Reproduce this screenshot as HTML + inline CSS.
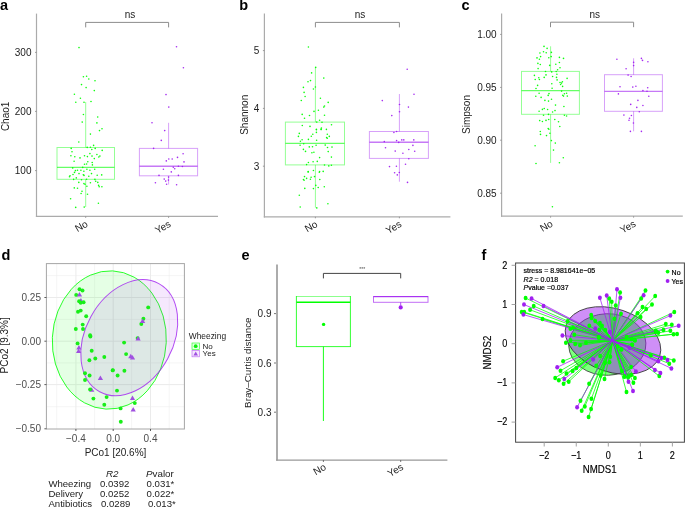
<!DOCTYPE html>
<html><head><meta charset="utf-8"><style>
html,body{margin:0;padding:0;background:#fff;width:685px;height:507px;overflow:hidden}
svg{display:block;will-change:transform}
text{font-family:"Liberation Sans", sans-serif}
</style></head><body>
<svg width="685" height="507" viewBox="0 0 685 507">
<rect width="685" height="507" fill="#fff"/>
<text x="0.0" y="9.8" font-size="14.5" text-anchor="start" fill="#000" font-weight="bold">a</text>
<line x1="36.50" y1="13.60" x2="36.50" y2="217.00" stroke="#ababab" stroke-width="1.2"/>
<line x1="35.90" y1="216.40" x2="218.00" y2="216.40" stroke="#ababab" stroke-width="1.2"/>
<line x1="35.00" y1="52.40" x2="36.50" y2="52.40" stroke="#888" stroke-width="0.8"/>
<text x="31.5" y="56.0" font-size="10" text-anchor="end" fill="#222">300</text>
<line x1="35.00" y1="111.40" x2="36.50" y2="111.40" stroke="#888" stroke-width="0.8"/>
<text x="31.5" y="115.0" font-size="10" text-anchor="end" fill="#222">200</text>
<line x1="35.00" y1="170.60" x2="36.50" y2="170.60" stroke="#888" stroke-width="0.8"/>
<text x="31.5" y="174.2" font-size="10" text-anchor="end" fill="#222">100</text>
<text x="9.3" y="116.4" font-size="10" text-anchor="middle" fill="#222" transform="rotate(-90 9.3 116.4)">Chao1</text>
<line x1="85.70" y1="102.00" x2="85.70" y2="147.50" stroke="#00ff00" stroke-width="1" stroke-opacity="0.42"/>
<line x1="85.70" y1="179.30" x2="85.70" y2="207.00" stroke="#00ff00" stroke-width="1" stroke-opacity="0.42"/>
<rect x="57.00" y="147.50" width="57.50" height="31.80" fill="none" stroke="#00ff00" stroke-width="1" stroke-opacity="0.42"/>
<line x1="57.00" y1="167.40" x2="114.50" y2="167.40" stroke="#00ff00" stroke-width="1.4" stroke-opacity="0.6"/>
<circle cx="79.0" cy="47.6" r="0.8" fill="#00ff00" fill-opacity="0.95"/>
<circle cx="83.4" cy="76.7" r="0.8" fill="#00ff00" fill-opacity="0.95"/>
<circle cx="86.6" cy="76.3" r="0.8" fill="#00ff00" fill-opacity="0.95"/>
<circle cx="88.8" cy="79.0" r="0.8" fill="#00ff00" fill-opacity="0.95"/>
<circle cx="95.0" cy="80.8" r="0.8" fill="#00ff00" fill-opacity="0.95"/>
<circle cx="81.5" cy="84.6" r="0.8" fill="#00ff00" fill-opacity="0.95"/>
<circle cx="86.1" cy="87.6" r="0.8" fill="#00ff00" fill-opacity="0.95"/>
<circle cx="94.3" cy="90.6" r="0.8" fill="#00ff00" fill-opacity="0.95"/>
<circle cx="74.4" cy="94.2" r="0.8" fill="#00ff00" fill-opacity="0.95"/>
<circle cx="80.4" cy="98.2" r="0.8" fill="#00ff00" fill-opacity="0.95"/>
<circle cx="75.8" cy="102.3" r="0.8" fill="#00ff00" fill-opacity="0.95"/>
<circle cx="84.0" cy="102.3" r="0.8" fill="#00ff00" fill-opacity="0.95"/>
<circle cx="91.0" cy="101.5" r="0.8" fill="#00ff00" fill-opacity="0.95"/>
<circle cx="83.4" cy="114.5" r="0.8" fill="#00ff00" fill-opacity="0.95"/>
<circle cx="97.7" cy="117.0" r="0.8" fill="#00ff00" fill-opacity="0.95"/>
<circle cx="82.2" cy="122.1" r="0.8" fill="#00ff00" fill-opacity="0.95"/>
<circle cx="96.9" cy="122.9" r="0.8" fill="#00ff00" fill-opacity="0.95"/>
<circle cx="102.0" cy="128.8" r="0.8" fill="#00ff00" fill-opacity="0.95"/>
<circle cx="99.5" cy="130.6" r="0.8" fill="#00ff00" fill-opacity="0.95"/>
<circle cx="90.4" cy="134.1" r="0.8" fill="#00ff00" fill-opacity="0.95"/>
<circle cx="78.8" cy="142.0" r="0.8" fill="#00ff00" fill-opacity="0.95"/>
<circle cx="93.6" cy="145.4" r="0.8" fill="#00ff00" fill-opacity="0.95"/>
<circle cx="87.2" cy="147.4" r="0.8" fill="#00ff00" fill-opacity="0.95"/>
<circle cx="90.4" cy="147.2" r="0.8" fill="#00ff00" fill-opacity="0.95"/>
<circle cx="71.2" cy="148.4" r="0.8" fill="#00ff00" fill-opacity="0.95"/>
<circle cx="95.2" cy="148.4" r="0.8" fill="#00ff00" fill-opacity="0.95"/>
<circle cx="102.2" cy="150.4" r="0.8" fill="#00ff00" fill-opacity="0.95"/>
<circle cx="91.8" cy="149.5" r="0.8" fill="#00ff00" fill-opacity="0.95"/>
<circle cx="72.0" cy="151.8" r="0.8" fill="#00ff00" fill-opacity="0.95"/>
<circle cx="89.9" cy="153.6" r="0.8" fill="#00ff00" fill-opacity="0.95"/>
<circle cx="96.9" cy="154.5" r="0.8" fill="#00ff00" fill-opacity="0.95"/>
<circle cx="70.9" cy="155.8" r="0.8" fill="#00ff00" fill-opacity="0.95"/>
<circle cx="74.8" cy="156.8" r="0.8" fill="#00ff00" fill-opacity="0.95"/>
<circle cx="80.0" cy="157.9" r="0.8" fill="#00ff00" fill-opacity="0.95"/>
<circle cx="84.5" cy="155.8" r="0.8" fill="#00ff00" fill-opacity="0.95"/>
<circle cx="87.4" cy="156.6" r="0.8" fill="#00ff00" fill-opacity="0.95"/>
<circle cx="92.0" cy="156.1" r="0.8" fill="#00ff00" fill-opacity="0.95"/>
<circle cx="98.8" cy="157.0" r="0.8" fill="#00ff00" fill-opacity="0.95"/>
<circle cx="99.9" cy="156.1" r="0.8" fill="#00ff00" fill-opacity="0.95"/>
<circle cx="94.3" cy="158.6" r="0.8" fill="#00ff00" fill-opacity="0.95"/>
<circle cx="74.1" cy="161.3" r="0.8" fill="#00ff00" fill-opacity="0.95"/>
<circle cx="87.8" cy="161.7" r="0.8" fill="#00ff00" fill-opacity="0.95"/>
<circle cx="84.5" cy="164.2" r="0.8" fill="#00ff00" fill-opacity="0.95"/>
<circle cx="86.6" cy="164.0" r="0.8" fill="#00ff00" fill-opacity="0.95"/>
<circle cx="92.2" cy="162.5" r="0.8" fill="#00ff00" fill-opacity="0.95"/>
<circle cx="92.4" cy="164.9" r="0.8" fill="#00ff00" fill-opacity="0.95"/>
<circle cx="72.7" cy="167.9" r="0.8" fill="#00ff00" fill-opacity="0.95"/>
<circle cx="82.7" cy="167.4" r="0.8" fill="#00ff00" fill-opacity="0.95"/>
<circle cx="75.4" cy="170.6" r="0.8" fill="#00ff00" fill-opacity="0.95"/>
<circle cx="77.5" cy="170.3" r="0.8" fill="#00ff00" fill-opacity="0.95"/>
<circle cx="80.9" cy="170.2" r="0.8" fill="#00ff00" fill-opacity="0.95"/>
<circle cx="83.9" cy="171.3" r="0.8" fill="#00ff00" fill-opacity="0.95"/>
<circle cx="86.9" cy="169.3" r="0.8" fill="#00ff00" fill-opacity="0.95"/>
<circle cx="89.9" cy="170.3" r="0.8" fill="#00ff00" fill-opacity="0.95"/>
<circle cx="94.7" cy="169.3" r="0.8" fill="#00ff00" fill-opacity="0.95"/>
<circle cx="74.5" cy="172.4" r="0.8" fill="#00ff00" fill-opacity="0.95"/>
<circle cx="73.0" cy="174.5" r="0.8" fill="#00ff00" fill-opacity="0.95"/>
<circle cx="79.0" cy="173.6" r="0.8" fill="#00ff00" fill-opacity="0.95"/>
<circle cx="83.3" cy="174.7" r="0.8" fill="#00ff00" fill-opacity="0.95"/>
<circle cx="84.0" cy="175.4" r="0.8" fill="#00ff00" fill-opacity="0.95"/>
<circle cx="91.5" cy="173.6" r="0.8" fill="#00ff00" fill-opacity="0.95"/>
<circle cx="88.8" cy="176.3" r="0.8" fill="#00ff00" fill-opacity="0.95"/>
<circle cx="97.2" cy="175.2" r="0.8" fill="#00ff00" fill-opacity="0.95"/>
<circle cx="101.7" cy="174.9" r="0.8" fill="#00ff00" fill-opacity="0.95"/>
<circle cx="70.0" cy="175.8" r="0.8" fill="#00ff00" fill-opacity="0.95"/>
<circle cx="69.5" cy="176.8" r="0.8" fill="#00ff00" fill-opacity="0.95"/>
<circle cx="76.3" cy="177.9" r="0.8" fill="#00ff00" fill-opacity="0.95"/>
<circle cx="73.6" cy="179.4" r="0.8" fill="#00ff00" fill-opacity="0.95"/>
<circle cx="81.5" cy="179.7" r="0.8" fill="#00ff00" fill-opacity="0.95"/>
<circle cx="86.6" cy="179.2" r="0.8" fill="#00ff00" fill-opacity="0.95"/>
<circle cx="94.9" cy="179.4" r="0.8" fill="#00ff00" fill-opacity="0.95"/>
<circle cx="78.8" cy="182.4" r="0.8" fill="#00ff00" fill-opacity="0.95"/>
<circle cx="83.9" cy="183.6" r="0.8" fill="#00ff00" fill-opacity="0.95"/>
<circle cx="85.0" cy="184.2" r="0.8" fill="#00ff00" fill-opacity="0.95"/>
<circle cx="90.4" cy="182.7" r="0.8" fill="#00ff00" fill-opacity="0.95"/>
<circle cx="95.7" cy="181.2" r="0.8" fill="#00ff00" fill-opacity="0.95"/>
<circle cx="97.8" cy="182.4" r="0.8" fill="#00ff00" fill-opacity="0.95"/>
<circle cx="98.6" cy="185.4" r="0.8" fill="#00ff00" fill-opacity="0.95"/>
<circle cx="99.2" cy="186.7" r="0.8" fill="#00ff00" fill-opacity="0.95"/>
<circle cx="101.9" cy="186.7" r="0.8" fill="#00ff00" fill-opacity="0.95"/>
<circle cx="86.9" cy="186.3" r="0.8" fill="#00ff00" fill-opacity="0.95"/>
<circle cx="74.3" cy="187.9" r="0.8" fill="#00ff00" fill-opacity="0.95"/>
<circle cx="77.5" cy="188.3" r="0.8" fill="#00ff00" fill-opacity="0.95"/>
<circle cx="82.0" cy="191.2" r="0.8" fill="#00ff00" fill-opacity="0.95"/>
<circle cx="81.1" cy="193.5" r="0.8" fill="#00ff00" fill-opacity="0.95"/>
<circle cx="87.5" cy="194.2" r="0.8" fill="#00ff00" fill-opacity="0.95"/>
<circle cx="70.6" cy="198.8" r="0.8" fill="#00ff00" fill-opacity="0.95"/>
<circle cx="98.4" cy="203.3" r="0.8" fill="#00ff00" fill-opacity="0.95"/>
<circle cx="75.7" cy="207.4" r="0.8" fill="#00ff00" fill-opacity="0.95"/>
<circle cx="84.2" cy="207.1" r="0.8" fill="#00ff00" fill-opacity="0.95"/>
<line x1="168.60" y1="122.80" x2="168.60" y2="148.40" stroke="#a020f0" stroke-width="1" stroke-opacity="0.42"/>
<line x1="168.60" y1="175.80" x2="168.60" y2="184.50" stroke="#a020f0" stroke-width="1" stroke-opacity="0.42"/>
<rect x="139.40" y="148.40" width="58.20" height="27.40" fill="none" stroke="#a020f0" stroke-width="1" stroke-opacity="0.42"/>
<line x1="139.40" y1="166.20" x2="197.60" y2="166.20" stroke="#a020f0" stroke-width="1.4" stroke-opacity="0.6"/>
<circle cx="176.5" cy="46.8" r="0.8" fill="#a020f0" fill-opacity="0.95"/>
<circle cx="183.4" cy="67.7" r="0.8" fill="#a020f0" fill-opacity="0.95"/>
<circle cx="166.0" cy="94.6" r="0.8" fill="#a020f0" fill-opacity="0.95"/>
<circle cx="168.8" cy="107.1" r="0.8" fill="#a020f0" fill-opacity="0.95"/>
<circle cx="152.0" cy="122.8" r="0.8" fill="#a020f0" fill-opacity="0.95"/>
<circle cx="164.7" cy="130.6" r="0.8" fill="#a020f0" fill-opacity="0.95"/>
<circle cx="161.3" cy="140.4" r="0.8" fill="#a020f0" fill-opacity="0.95"/>
<circle cx="153.6" cy="148.4" r="0.8" fill="#a020f0" fill-opacity="0.95"/>
<circle cx="183.1" cy="153.8" r="0.8" fill="#a020f0" fill-opacity="0.95"/>
<circle cx="177.5" cy="157.4" r="0.8" fill="#a020f0" fill-opacity="0.95"/>
<circle cx="168.8" cy="159.0" r="0.8" fill="#a020f0" fill-opacity="0.95"/>
<circle cx="172.2" cy="159.0" r="0.8" fill="#a020f0" fill-opacity="0.95"/>
<circle cx="166.3" cy="160.9" r="0.8" fill="#a020f0" fill-opacity="0.95"/>
<circle cx="184.0" cy="161.9" r="0.8" fill="#a020f0" fill-opacity="0.95"/>
<circle cx="173.3" cy="167.2" r="0.8" fill="#a020f0" fill-opacity="0.95"/>
<circle cx="178.4" cy="166.3" r="0.8" fill="#a020f0" fill-opacity="0.95"/>
<circle cx="182.4" cy="166.5" r="0.8" fill="#a020f0" fill-opacity="0.95"/>
<circle cx="174.7" cy="168.8" r="0.8" fill="#a020f0" fill-opacity="0.95"/>
<circle cx="163.4" cy="169.3" r="0.8" fill="#a020f0" fill-opacity="0.95"/>
<circle cx="171.3" cy="171.9" r="0.8" fill="#a020f0" fill-opacity="0.95"/>
<circle cx="159.0" cy="175.4" r="0.8" fill="#a020f0" fill-opacity="0.95"/>
<circle cx="178.4" cy="175.4" r="0.8" fill="#a020f0" fill-opacity="0.95"/>
<circle cx="168.6" cy="177.1" r="0.8" fill="#a020f0" fill-opacity="0.95"/>
<circle cx="164.2" cy="179.1" r="0.8" fill="#a020f0" fill-opacity="0.95"/>
<circle cx="165.7" cy="181.1" r="0.8" fill="#a020f0" fill-opacity="0.95"/>
<circle cx="168.4" cy="180.1" r="0.8" fill="#a020f0" fill-opacity="0.95"/>
<circle cx="155.4" cy="182.7" r="0.8" fill="#a020f0" fill-opacity="0.95"/>
<circle cx="166.6" cy="184.3" r="0.8" fill="#a020f0" fill-opacity="0.95"/>
<circle cx="176.6" cy="184.7" r="0.8" fill="#a020f0" fill-opacity="0.95"/>
<path d="M85.7 27.4 V22.4 H168.6 V27.4" fill="none" stroke="#8c8c8c" stroke-width="1"/>
<text x="130.0" y="18.0" font-size="10" text-anchor="middle" fill="#222">ns</text>
<line x1="85.70" y1="216.40" x2="85.70" y2="217.90" stroke="#888" stroke-width="0.8"/>
<line x1="168.60" y1="216.40" x2="168.60" y2="217.90" stroke="#888" stroke-width="0.8"/>
<text x="88.7" y="225.9" font-size="10" text-anchor="end" fill="#222" transform="rotate(-30 88.7 225.9)">No</text>
<text x="171.6" y="225.9" font-size="10" text-anchor="end" fill="#222" transform="rotate(-30 171.6 225.9)">Yes</text>
<text x="239.3" y="9.8" font-size="14.5" text-anchor="start" fill="#000" font-weight="bold">b</text>
<line x1="264.40" y1="13.60" x2="264.40" y2="217.40" stroke="#ababab" stroke-width="1.2"/>
<line x1="263.80" y1="216.80" x2="450.40" y2="216.80" stroke="#ababab" stroke-width="1.2"/>
<line x1="262.90" y1="50.60" x2="264.40" y2="50.60" stroke="#888" stroke-width="0.8"/>
<text x="259.4" y="54.2" font-size="10" text-anchor="end" fill="#222">5</text>
<line x1="262.90" y1="108.40" x2="264.40" y2="108.40" stroke="#888" stroke-width="0.8"/>
<text x="259.4" y="112.0" font-size="10" text-anchor="end" fill="#222">4</text>
<line x1="262.90" y1="166.20" x2="264.40" y2="166.20" stroke="#888" stroke-width="0.8"/>
<text x="259.4" y="169.8" font-size="10" text-anchor="end" fill="#222">3</text>
<text x="248.3" y="114.8" font-size="10" text-anchor="middle" fill="#222" transform="rotate(-90 248.3 114.8)">Shannon</text>
<line x1="315.40" y1="67.20" x2="315.40" y2="122.10" stroke="#00ff00" stroke-width="1" stroke-opacity="0.42"/>
<line x1="315.40" y1="164.90" x2="315.40" y2="207.70" stroke="#00ff00" stroke-width="1" stroke-opacity="0.42"/>
<rect x="285.40" y="122.10" width="59.10" height="42.80" fill="none" stroke="#00ff00" stroke-width="1" stroke-opacity="0.42"/>
<line x1="285.40" y1="143.40" x2="344.50" y2="143.40" stroke="#00ff00" stroke-width="1.4" stroke-opacity="0.6"/>
<circle cx="308.4" cy="47.0" r="0.8" fill="#00ff00" fill-opacity="0.95"/>
<circle cx="315.7" cy="67.4" r="0.8" fill="#00ff00" fill-opacity="0.95"/>
<circle cx="311.6" cy="72.9" r="0.8" fill="#00ff00" fill-opacity="0.95"/>
<circle cx="323.8" cy="78.1" r="0.8" fill="#00ff00" fill-opacity="0.95"/>
<circle cx="310.5" cy="80.6" r="0.8" fill="#00ff00" fill-opacity="0.95"/>
<circle cx="308.0" cy="81.7" r="0.8" fill="#00ff00" fill-opacity="0.95"/>
<circle cx="303.4" cy="87.4" r="0.8" fill="#00ff00" fill-opacity="0.95"/>
<circle cx="315.4" cy="87.0" r="0.8" fill="#00ff00" fill-opacity="0.95"/>
<circle cx="313.4" cy="89.0" r="0.8" fill="#00ff00" fill-opacity="0.95"/>
<circle cx="304.1" cy="92.4" r="0.8" fill="#00ff00" fill-opacity="0.95"/>
<circle cx="305.1" cy="96.5" r="0.8" fill="#00ff00" fill-opacity="0.95"/>
<circle cx="320.4" cy="98.2" r="0.8" fill="#00ff00" fill-opacity="0.95"/>
<circle cx="301.3" cy="100.5" r="0.8" fill="#00ff00" fill-opacity="0.95"/>
<circle cx="328.2" cy="102.4" r="0.8" fill="#00ff00" fill-opacity="0.95"/>
<circle cx="324.5" cy="106.0" r="0.8" fill="#00ff00" fill-opacity="0.95"/>
<circle cx="323.8" cy="107.1" r="0.8" fill="#00ff00" fill-opacity="0.95"/>
<circle cx="318.4" cy="110.3" r="0.8" fill="#00ff00" fill-opacity="0.95"/>
<circle cx="314.0" cy="111.4" r="0.8" fill="#00ff00" fill-opacity="0.95"/>
<circle cx="302.2" cy="114.4" r="0.8" fill="#00ff00" fill-opacity="0.95"/>
<circle cx="309.5" cy="115.5" r="0.8" fill="#00ff00" fill-opacity="0.95"/>
<circle cx="324.5" cy="115.3" r="0.8" fill="#00ff00" fill-opacity="0.95"/>
<circle cx="304.5" cy="118.2" r="0.8" fill="#00ff00" fill-opacity="0.95"/>
<circle cx="319.6" cy="120.3" r="0.8" fill="#00ff00" fill-opacity="0.95"/>
<circle cx="316.8" cy="122.1" r="0.8" fill="#00ff00" fill-opacity="0.95"/>
<circle cx="322.0" cy="122.3" r="0.8" fill="#00ff00" fill-opacity="0.95"/>
<circle cx="302.3" cy="125.5" r="0.8" fill="#00ff00" fill-opacity="0.95"/>
<circle cx="310.0" cy="126.4" r="0.8" fill="#00ff00" fill-opacity="0.95"/>
<circle cx="331.5" cy="124.8" r="0.8" fill="#00ff00" fill-opacity="0.95"/>
<circle cx="316.4" cy="129.4" r="0.8" fill="#00ff00" fill-opacity="0.95"/>
<circle cx="321.4" cy="128.0" r="0.8" fill="#00ff00" fill-opacity="0.95"/>
<circle cx="321.1" cy="129.1" r="0.8" fill="#00ff00" fill-opacity="0.95"/>
<circle cx="326.4" cy="129.4" r="0.8" fill="#00ff00" fill-opacity="0.95"/>
<circle cx="321.1" cy="129.6" r="0.8" fill="#00ff00" fill-opacity="0.95"/>
<circle cx="316.4" cy="129.8" r="0.8" fill="#00ff00" fill-opacity="0.95"/>
<circle cx="316.4" cy="132.4" r="0.8" fill="#00ff00" fill-opacity="0.95"/>
<circle cx="299.3" cy="133.4" r="0.8" fill="#00ff00" fill-opacity="0.95"/>
<circle cx="312.8" cy="134.2" r="0.8" fill="#00ff00" fill-opacity="0.95"/>
<circle cx="327.3" cy="134.2" r="0.8" fill="#00ff00" fill-opacity="0.95"/>
<circle cx="298.4" cy="136.4" r="0.8" fill="#00ff00" fill-opacity="0.95"/>
<circle cx="311.3" cy="136.3" r="0.8" fill="#00ff00" fill-opacity="0.95"/>
<circle cx="329.3" cy="136.4" r="0.8" fill="#00ff00" fill-opacity="0.95"/>
<circle cx="326.6" cy="137.6" r="0.8" fill="#00ff00" fill-opacity="0.95"/>
<circle cx="327.3" cy="138.3" r="0.8" fill="#00ff00" fill-opacity="0.95"/>
<circle cx="302.1" cy="139.8" r="0.8" fill="#00ff00" fill-opacity="0.95"/>
<circle cx="300.4" cy="141.2" r="0.8" fill="#00ff00" fill-opacity="0.95"/>
<circle cx="308.4" cy="139.4" r="0.8" fill="#00ff00" fill-opacity="0.95"/>
<circle cx="316.6" cy="140.3" r="0.8" fill="#00ff00" fill-opacity="0.95"/>
<circle cx="303.7" cy="143.7" r="0.8" fill="#00ff00" fill-opacity="0.95"/>
<circle cx="300.1" cy="145.3" r="0.8" fill="#00ff00" fill-opacity="0.95"/>
<circle cx="309.3" cy="146.9" r="0.8" fill="#00ff00" fill-opacity="0.95"/>
<circle cx="312.5" cy="146.7" r="0.8" fill="#00ff00" fill-opacity="0.95"/>
<circle cx="316.1" cy="145.3" r="0.8" fill="#00ff00" fill-opacity="0.95"/>
<circle cx="325.2" cy="145.1" r="0.8" fill="#00ff00" fill-opacity="0.95"/>
<circle cx="327.5" cy="147.5" r="0.8" fill="#00ff00" fill-opacity="0.95"/>
<circle cx="332.0" cy="147.1" r="0.8" fill="#00ff00" fill-opacity="0.95"/>
<circle cx="303.4" cy="149.4" r="0.8" fill="#00ff00" fill-opacity="0.95"/>
<circle cx="305.5" cy="151.4" r="0.8" fill="#00ff00" fill-opacity="0.95"/>
<circle cx="311.9" cy="152.8" r="0.8" fill="#00ff00" fill-opacity="0.95"/>
<circle cx="313.9" cy="152.3" r="0.8" fill="#00ff00" fill-opacity="0.95"/>
<circle cx="328.2" cy="151.6" r="0.8" fill="#00ff00" fill-opacity="0.95"/>
<circle cx="319.6" cy="157.6" r="0.8" fill="#00ff00" fill-opacity="0.95"/>
<circle cx="331.4" cy="157.1" r="0.8" fill="#00ff00" fill-opacity="0.95"/>
<circle cx="308.4" cy="162.5" r="0.8" fill="#00ff00" fill-opacity="0.95"/>
<circle cx="313.1" cy="161.7" r="0.8" fill="#00ff00" fill-opacity="0.95"/>
<circle cx="317.3" cy="161.4" r="0.8" fill="#00ff00" fill-opacity="0.95"/>
<circle cx="306.6" cy="164.6" r="0.8" fill="#00ff00" fill-opacity="0.95"/>
<circle cx="324.5" cy="165.0" r="0.8" fill="#00ff00" fill-opacity="0.95"/>
<circle cx="328.8" cy="165.9" r="0.8" fill="#00ff00" fill-opacity="0.95"/>
<circle cx="331.4" cy="165.3" r="0.8" fill="#00ff00" fill-opacity="0.95"/>
<circle cx="313.4" cy="170.5" r="0.8" fill="#00ff00" fill-opacity="0.95"/>
<circle cx="308.2" cy="171.6" r="0.8" fill="#00ff00" fill-opacity="0.95"/>
<circle cx="319.6" cy="171.6" r="0.8" fill="#00ff00" fill-opacity="0.95"/>
<circle cx="323.2" cy="171.4" r="0.8" fill="#00ff00" fill-opacity="0.95"/>
<circle cx="308.1" cy="172.1" r="0.8" fill="#00ff00" fill-opacity="0.95"/>
<circle cx="319.3" cy="172.3" r="0.8" fill="#00ff00" fill-opacity="0.95"/>
<circle cx="304.5" cy="176.6" r="0.8" fill="#00ff00" fill-opacity="0.95"/>
<circle cx="306.6" cy="178.4" r="0.8" fill="#00ff00" fill-opacity="0.95"/>
<circle cx="311.1" cy="177.3" r="0.8" fill="#00ff00" fill-opacity="0.95"/>
<circle cx="310.4" cy="179.3" r="0.8" fill="#00ff00" fill-opacity="0.95"/>
<circle cx="314.5" cy="176.6" r="0.8" fill="#00ff00" fill-opacity="0.95"/>
<circle cx="303.4" cy="179.5" r="0.8" fill="#00ff00" fill-opacity="0.95"/>
<circle cx="304.1" cy="180.3" r="0.8" fill="#00ff00" fill-opacity="0.95"/>
<circle cx="319.8" cy="179.5" r="0.8" fill="#00ff00" fill-opacity="0.95"/>
<circle cx="315.8" cy="185.4" r="0.8" fill="#00ff00" fill-opacity="0.95"/>
<circle cx="318.2" cy="187.5" r="0.8" fill="#00ff00" fill-opacity="0.95"/>
<circle cx="324.3" cy="186.8" r="0.8" fill="#00ff00" fill-opacity="0.95"/>
<circle cx="304.8" cy="188.4" r="0.8" fill="#00ff00" fill-opacity="0.95"/>
<circle cx="313.4" cy="188.6" r="0.8" fill="#00ff00" fill-opacity="0.95"/>
<circle cx="299.3" cy="195.2" r="0.8" fill="#00ff00" fill-opacity="0.95"/>
<circle cx="327.9" cy="203.7" r="0.8" fill="#00ff00" fill-opacity="0.95"/>
<circle cx="300.2" cy="207.0" r="0.8" fill="#00ff00" fill-opacity="0.95"/>
<circle cx="316.8" cy="207.9" r="0.8" fill="#00ff00" fill-opacity="0.95"/>
<line x1="399.40" y1="94.00" x2="399.40" y2="131.50" stroke="#a020f0" stroke-width="1" stroke-opacity="0.42"/>
<line x1="399.40" y1="158.40" x2="399.40" y2="181.70" stroke="#a020f0" stroke-width="1" stroke-opacity="0.42"/>
<rect x="369.40" y="131.50" width="59.00" height="26.90" fill="none" stroke="#a020f0" stroke-width="1" stroke-opacity="0.42"/>
<line x1="369.40" y1="142.30" x2="428.40" y2="142.30" stroke="#a020f0" stroke-width="1.4" stroke-opacity="0.6"/>
<circle cx="407.2" cy="69.3" r="0.8" fill="#a020f0" fill-opacity="0.95"/>
<circle cx="414.0" cy="94.3" r="0.8" fill="#a020f0" fill-opacity="0.95"/>
<circle cx="382.3" cy="100.6" r="0.8" fill="#a020f0" fill-opacity="0.95"/>
<circle cx="399.5" cy="104.5" r="0.8" fill="#a020f0" fill-opacity="0.95"/>
<circle cx="408.4" cy="107.1" r="0.8" fill="#a020f0" fill-opacity="0.95"/>
<circle cx="399.5" cy="111.8" r="0.8" fill="#a020f0" fill-opacity="0.95"/>
<circle cx="391.8" cy="115.6" r="0.8" fill="#a020f0" fill-opacity="0.95"/>
<circle cx="393.9" cy="132.5" r="0.8" fill="#a020f0" fill-opacity="0.95"/>
<circle cx="396.6" cy="131.5" r="0.8" fill="#a020f0" fill-opacity="0.95"/>
<circle cx="396.6" cy="140.6" r="0.8" fill="#a020f0" fill-opacity="0.95"/>
<circle cx="401.8" cy="139.9" r="0.8" fill="#a020f0" fill-opacity="0.95"/>
<circle cx="403.8" cy="139.9" r="0.8" fill="#a020f0" fill-opacity="0.95"/>
<circle cx="413.8" cy="139.9" r="0.8" fill="#a020f0" fill-opacity="0.95"/>
<circle cx="384.3" cy="141.6" r="0.8" fill="#a020f0" fill-opacity="0.95"/>
<circle cx="398.7" cy="142.4" r="0.8" fill="#a020f0" fill-opacity="0.95"/>
<circle cx="412.9" cy="145.4" r="0.8" fill="#a020f0" fill-opacity="0.95"/>
<circle cx="385.5" cy="147.7" r="0.8" fill="#a020f0" fill-opacity="0.95"/>
<circle cx="408.8" cy="149.5" r="0.8" fill="#a020f0" fill-opacity="0.95"/>
<circle cx="395.2" cy="151.1" r="0.8" fill="#a020f0" fill-opacity="0.95"/>
<circle cx="414.7" cy="151.2" r="0.8" fill="#a020f0" fill-opacity="0.95"/>
<circle cx="402.9" cy="153.3" r="0.8" fill="#a020f0" fill-opacity="0.95"/>
<circle cx="408.8" cy="158.8" r="0.8" fill="#a020f0" fill-opacity="0.95"/>
<circle cx="405.5" cy="164.2" r="0.8" fill="#a020f0" fill-opacity="0.95"/>
<circle cx="389.5" cy="166.6" r="0.8" fill="#a020f0" fill-opacity="0.95"/>
<circle cx="396.4" cy="166.3" r="0.8" fill="#a020f0" fill-opacity="0.95"/>
<circle cx="399.3" cy="172.5" r="0.8" fill="#a020f0" fill-opacity="0.95"/>
<circle cx="394.6" cy="172.8" r="0.8" fill="#a020f0" fill-opacity="0.95"/>
<circle cx="397.3" cy="174.9" r="0.8" fill="#a020f0" fill-opacity="0.95"/>
<circle cx="407.5" cy="182.4" r="0.8" fill="#a020f0" fill-opacity="0.95"/>
<path d="M315.4 27.4 V22.4 H399.4 V27.4" fill="none" stroke="#8c8c8c" stroke-width="1"/>
<text x="360.0" y="18.0" font-size="10" text-anchor="middle" fill="#222">ns</text>
<line x1="315.40" y1="216.80" x2="315.40" y2="218.30" stroke="#888" stroke-width="0.8"/>
<line x1="399.40" y1="216.80" x2="399.40" y2="218.30" stroke="#888" stroke-width="0.8"/>
<text x="318.4" y="226.1" font-size="10" text-anchor="end" fill="#222" transform="rotate(-30 318.4 226.1)">No</text>
<text x="402.4" y="226.1" font-size="10" text-anchor="end" fill="#222" transform="rotate(-30 402.4 226.1)">Yes</text>
<text x="461.5" y="9.8" font-size="14.5" text-anchor="start" fill="#000" font-weight="bold">c</text>
<line x1="501.60" y1="13.60" x2="501.60" y2="216.80" stroke="#ababab" stroke-width="1.2"/>
<line x1="501.00" y1="216.20" x2="682.80" y2="216.20" stroke="#ababab" stroke-width="1.2"/>
<line x1="500.10" y1="34.40" x2="501.60" y2="34.40" stroke="#888" stroke-width="0.8"/>
<text x="496.6" y="38.0" font-size="10" text-anchor="end" fill="#222">1.00</text>
<line x1="500.10" y1="87.40" x2="501.60" y2="87.40" stroke="#888" stroke-width="0.8"/>
<text x="496.6" y="91.0" font-size="10" text-anchor="end" fill="#222">0.95</text>
<line x1="500.10" y1="140.20" x2="501.60" y2="140.20" stroke="#888" stroke-width="0.8"/>
<text x="496.6" y="143.8" font-size="10" text-anchor="end" fill="#222">0.90</text>
<line x1="500.10" y1="193.20" x2="501.60" y2="193.20" stroke="#888" stroke-width="0.8"/>
<text x="496.6" y="196.8" font-size="10" text-anchor="end" fill="#222">0.85</text>
<text x="470.3" y="114.5" font-size="10" text-anchor="middle" fill="#222" transform="rotate(-90 470.3 114.5)">Simpson</text>
<line x1="550.60" y1="46.30" x2="550.60" y2="71.40" stroke="#00ff00" stroke-width="1" stroke-opacity="0.42"/>
<line x1="550.60" y1="114.30" x2="550.60" y2="162.90" stroke="#00ff00" stroke-width="1" stroke-opacity="0.42"/>
<rect x="521.50" y="71.40" width="57.90" height="42.90" fill="none" stroke="#00ff00" stroke-width="1" stroke-opacity="0.42"/>
<line x1="521.50" y1="90.60" x2="579.40" y2="90.60" stroke="#00ff00" stroke-width="1.4" stroke-opacity="0.6"/>
<circle cx="544.0" cy="46.4" r="0.8" fill="#00ff00" fill-opacity="0.95"/>
<circle cx="547.1" cy="48.4" r="0.8" fill="#00ff00" fill-opacity="0.95"/>
<circle cx="539.9" cy="53.0" r="0.8" fill="#00ff00" fill-opacity="0.95"/>
<circle cx="543.5" cy="51.8" r="0.8" fill="#00ff00" fill-opacity="0.95"/>
<circle cx="546.2" cy="52.7" r="0.8" fill="#00ff00" fill-opacity="0.95"/>
<circle cx="551.4" cy="52.4" r="0.8" fill="#00ff00" fill-opacity="0.95"/>
<circle cx="540.6" cy="56.6" r="0.8" fill="#00ff00" fill-opacity="0.95"/>
<circle cx="537.0" cy="57.9" r="0.8" fill="#00ff00" fill-opacity="0.95"/>
<circle cx="539.4" cy="59.3" r="0.8" fill="#00ff00" fill-opacity="0.95"/>
<circle cx="548.8" cy="57.7" r="0.8" fill="#00ff00" fill-opacity="0.95"/>
<circle cx="551.2" cy="56.6" r="0.8" fill="#00ff00" fill-opacity="0.95"/>
<circle cx="559.4" cy="57.4" r="0.8" fill="#00ff00" fill-opacity="0.95"/>
<circle cx="563.5" cy="58.4" r="0.8" fill="#00ff00" fill-opacity="0.95"/>
<circle cx="537.9" cy="63.4" r="0.8" fill="#00ff00" fill-opacity="0.95"/>
<circle cx="540.3" cy="64.5" r="0.8" fill="#00ff00" fill-opacity="0.95"/>
<circle cx="549.7" cy="65.4" r="0.8" fill="#00ff00" fill-opacity="0.95"/>
<circle cx="555.8" cy="64.3" r="0.8" fill="#00ff00" fill-opacity="0.95"/>
<circle cx="559.4" cy="62.5" r="0.8" fill="#00ff00" fill-opacity="0.95"/>
<circle cx="538.1" cy="68.6" r="0.8" fill="#00ff00" fill-opacity="0.95"/>
<circle cx="560.0" cy="67.7" r="0.8" fill="#00ff00" fill-opacity="0.95"/>
<circle cx="545.5" cy="71.5" r="0.8" fill="#00ff00" fill-opacity="0.95"/>
<circle cx="551.7" cy="71.9" r="0.8" fill="#00ff00" fill-opacity="0.95"/>
<circle cx="556.2" cy="71.5" r="0.8" fill="#00ff00" fill-opacity="0.95"/>
<circle cx="557.6" cy="69.8" r="0.8" fill="#00ff00" fill-opacity="0.95"/>
<circle cx="534.4" cy="75.4" r="0.8" fill="#00ff00" fill-opacity="0.95"/>
<circle cx="546.0" cy="74.9" r="0.8" fill="#00ff00" fill-opacity="0.95"/>
<circle cx="556.9" cy="74.3" r="0.8" fill="#00ff00" fill-opacity="0.95"/>
<circle cx="552.6" cy="76.5" r="0.8" fill="#00ff00" fill-opacity="0.95"/>
<circle cx="544.2" cy="77.4" r="0.8" fill="#00ff00" fill-opacity="0.95"/>
<circle cx="556.5" cy="77.4" r="0.8" fill="#00ff00" fill-opacity="0.95"/>
<circle cx="538.8" cy="77.7" r="0.8" fill="#00ff00" fill-opacity="0.95"/>
<circle cx="539.4" cy="79.5" r="0.8" fill="#00ff00" fill-opacity="0.95"/>
<circle cx="535.2" cy="79.5" r="0.8" fill="#00ff00" fill-opacity="0.95"/>
<circle cx="557.1" cy="79.9" r="0.8" fill="#00ff00" fill-opacity="0.95"/>
<circle cx="567.1" cy="78.4" r="0.8" fill="#00ff00" fill-opacity="0.95"/>
<circle cx="560.0" cy="82.5" r="0.8" fill="#00ff00" fill-opacity="0.95"/>
<circle cx="562.4" cy="81.7" r="0.8" fill="#00ff00" fill-opacity="0.95"/>
<circle cx="561.6" cy="83.1" r="0.8" fill="#00ff00" fill-opacity="0.95"/>
<circle cx="560.6" cy="84.5" r="0.8" fill="#00ff00" fill-opacity="0.95"/>
<circle cx="551.8" cy="83.7" r="0.8" fill="#00ff00" fill-opacity="0.95"/>
<circle cx="537.6" cy="85.4" r="0.8" fill="#00ff00" fill-opacity="0.95"/>
<circle cx="562.6" cy="86.4" r="0.8" fill="#00ff00" fill-opacity="0.95"/>
<circle cx="536.0" cy="88.5" r="0.8" fill="#00ff00" fill-opacity="0.95"/>
<circle cx="552.1" cy="88.2" r="0.8" fill="#00ff00" fill-opacity="0.95"/>
<circle cx="561.6" cy="91.1" r="0.8" fill="#00ff00" fill-opacity="0.95"/>
<circle cx="539.1" cy="93.3" r="0.8" fill="#00ff00" fill-opacity="0.95"/>
<circle cx="549.0" cy="93.6" r="0.8" fill="#00ff00" fill-opacity="0.95"/>
<circle cx="548.2" cy="95.4" r="0.8" fill="#00ff00" fill-opacity="0.95"/>
<circle cx="535.8" cy="96.3" r="0.8" fill="#00ff00" fill-opacity="0.95"/>
<circle cx="541.1" cy="97.4" r="0.8" fill="#00ff00" fill-opacity="0.95"/>
<circle cx="564.4" cy="93.8" r="0.8" fill="#00ff00" fill-opacity="0.95"/>
<circle cx="566.6" cy="93.3" r="0.8" fill="#00ff00" fill-opacity="0.95"/>
<circle cx="562.7" cy="95.2" r="0.8" fill="#00ff00" fill-opacity="0.95"/>
<circle cx="563.5" cy="96.1" r="0.8" fill="#00ff00" fill-opacity="0.95"/>
<circle cx="567.3" cy="96.1" r="0.8" fill="#00ff00" fill-opacity="0.95"/>
<circle cx="551.5" cy="99.2" r="0.8" fill="#00ff00" fill-opacity="0.95"/>
<circle cx="544.9" cy="100.4" r="0.8" fill="#00ff00" fill-opacity="0.95"/>
<circle cx="548.5" cy="101.1" r="0.8" fill="#00ff00" fill-opacity="0.95"/>
<circle cx="555.5" cy="105.1" r="0.8" fill="#00ff00" fill-opacity="0.95"/>
<circle cx="563.9" cy="106.5" r="0.8" fill="#00ff00" fill-opacity="0.95"/>
<circle cx="544.2" cy="108.5" r="0.8" fill="#00ff00" fill-opacity="0.95"/>
<circle cx="542.4" cy="109.4" r="0.8" fill="#00ff00" fill-opacity="0.95"/>
<circle cx="547.6" cy="109.5" r="0.8" fill="#00ff00" fill-opacity="0.95"/>
<circle cx="539.1" cy="111.3" r="0.8" fill="#00ff00" fill-opacity="0.95"/>
<circle cx="552.6" cy="112.0" r="0.8" fill="#00ff00" fill-opacity="0.95"/>
<circle cx="555.0" cy="110.6" r="0.8" fill="#00ff00" fill-opacity="0.95"/>
<circle cx="548.5" cy="114.4" r="0.8" fill="#00ff00" fill-opacity="0.95"/>
<circle cx="543.5" cy="115.3" r="0.8" fill="#00ff00" fill-opacity="0.95"/>
<circle cx="564.4" cy="115.3" r="0.8" fill="#00ff00" fill-opacity="0.95"/>
<circle cx="566.6" cy="116.0" r="0.8" fill="#00ff00" fill-opacity="0.95"/>
<circle cx="539.7" cy="120.6" r="0.8" fill="#00ff00" fill-opacity="0.95"/>
<circle cx="542.4" cy="121.5" r="0.8" fill="#00ff00" fill-opacity="0.95"/>
<circle cx="546.0" cy="120.4" r="0.8" fill="#00ff00" fill-opacity="0.95"/>
<circle cx="548.7" cy="119.5" r="0.8" fill="#00ff00" fill-opacity="0.95"/>
<circle cx="554.8" cy="119.5" r="0.8" fill="#00ff00" fill-opacity="0.95"/>
<circle cx="558.5" cy="121.7" r="0.8" fill="#00ff00" fill-opacity="0.95"/>
<circle cx="559.8" cy="126.5" r="0.8" fill="#00ff00" fill-opacity="0.95"/>
<circle cx="548.2" cy="128.6" r="0.8" fill="#00ff00" fill-opacity="0.95"/>
<circle cx="548.9" cy="129.3" r="0.8" fill="#00ff00" fill-opacity="0.95"/>
<circle cx="540.3" cy="131.5" r="0.8" fill="#00ff00" fill-opacity="0.95"/>
<circle cx="540.5" cy="134.4" r="0.8" fill="#00ff00" fill-opacity="0.95"/>
<circle cx="546.5" cy="135.6" r="0.8" fill="#00ff00" fill-opacity="0.95"/>
<circle cx="549.9" cy="133.3" r="0.8" fill="#00ff00" fill-opacity="0.95"/>
<circle cx="551.4" cy="140.6" r="0.8" fill="#00ff00" fill-opacity="0.95"/>
<circle cx="555.3" cy="143.1" r="0.8" fill="#00ff00" fill-opacity="0.95"/>
<circle cx="535.1" cy="145.8" r="0.8" fill="#00ff00" fill-opacity="0.95"/>
<circle cx="553.5" cy="150.1" r="0.8" fill="#00ff00" fill-opacity="0.95"/>
<circle cx="563.3" cy="157.8" r="0.8" fill="#00ff00" fill-opacity="0.95"/>
<circle cx="536.0" cy="163.5" r="0.8" fill="#00ff00" fill-opacity="0.95"/>
<circle cx="559.4" cy="162.8" r="0.8" fill="#00ff00" fill-opacity="0.95"/>
<circle cx="552.4" cy="206.8" r="0.8" fill="#00ff00" fill-opacity="0.95"/>
<line x1="633.60" y1="58.30" x2="633.60" y2="74.70" stroke="#a020f0" stroke-width="1" stroke-opacity="0.42"/>
<line x1="633.60" y1="111.30" x2="633.60" y2="131.30" stroke="#a020f0" stroke-width="1" stroke-opacity="0.42"/>
<rect x="604.50" y="74.70" width="57.90" height="36.60" fill="none" stroke="#a020f0" stroke-width="1" stroke-opacity="0.42"/>
<line x1="604.50" y1="91.40" x2="662.40" y2="91.40" stroke="#a020f0" stroke-width="1.4" stroke-opacity="0.6"/>
<circle cx="616.9" cy="59.3" r="0.8" fill="#a020f0" fill-opacity="0.95"/>
<circle cx="641.4" cy="58.4" r="0.8" fill="#a020f0" fill-opacity="0.95"/>
<circle cx="642.5" cy="60.4" r="0.8" fill="#a020f0" fill-opacity="0.95"/>
<circle cx="647.9" cy="61.8" r="0.8" fill="#a020f0" fill-opacity="0.95"/>
<circle cx="633.6" cy="62.4" r="0.8" fill="#a020f0" fill-opacity="0.95"/>
<circle cx="633.6" cy="65.6" r="0.8" fill="#a020f0" fill-opacity="0.95"/>
<circle cx="626.1" cy="68.8" r="0.8" fill="#a020f0" fill-opacity="0.95"/>
<circle cx="628.1" cy="75.1" r="0.8" fill="#a020f0" fill-opacity="0.95"/>
<circle cx="631.1" cy="76.5" r="0.8" fill="#a020f0" fill-opacity="0.95"/>
<circle cx="620.0" cy="86.7" r="0.8" fill="#a020f0" fill-opacity="0.95"/>
<circle cx="632.8" cy="87.1" r="0.8" fill="#a020f0" fill-opacity="0.95"/>
<circle cx="635.9" cy="86.3" r="0.8" fill="#a020f0" fill-opacity="0.95"/>
<circle cx="647.7" cy="87.8" r="0.8" fill="#a020f0" fill-opacity="0.95"/>
<circle cx="642.9" cy="90.6" r="0.8" fill="#a020f0" fill-opacity="0.95"/>
<circle cx="647.0" cy="91.3" r="0.8" fill="#a020f0" fill-opacity="0.95"/>
<circle cx="618.4" cy="93.9" r="0.8" fill="#a020f0" fill-opacity="0.95"/>
<circle cx="648.8" cy="96.3" r="0.8" fill="#a020f0" fill-opacity="0.95"/>
<circle cx="637.9" cy="100.4" r="0.8" fill="#a020f0" fill-opacity="0.95"/>
<circle cx="630.7" cy="104.4" r="0.8" fill="#a020f0" fill-opacity="0.95"/>
<circle cx="642.9" cy="105.5" r="0.8" fill="#a020f0" fill-opacity="0.95"/>
<circle cx="636.8" cy="107.4" r="0.8" fill="#a020f0" fill-opacity="0.95"/>
<circle cx="639.3" cy="111.7" r="0.8" fill="#a020f0" fill-opacity="0.95"/>
<circle cx="623.9" cy="115.1" r="0.8" fill="#a020f0" fill-opacity="0.95"/>
<circle cx="631.4" cy="115.5" r="0.8" fill="#a020f0" fill-opacity="0.95"/>
<circle cx="629.5" cy="118.2" r="0.8" fill="#a020f0" fill-opacity="0.95"/>
<circle cx="629.0" cy="120.3" r="0.8" fill="#a020f0" fill-opacity="0.95"/>
<circle cx="633.4" cy="123.0" r="0.8" fill="#a020f0" fill-opacity="0.95"/>
<circle cx="630.4" cy="131.4" r="0.8" fill="#a020f0" fill-opacity="0.95"/>
<circle cx="641.4" cy="131.4" r="0.8" fill="#a020f0" fill-opacity="0.95"/>
<path d="M550.5 27.2 V22.2 H633.6 V27.2" fill="none" stroke="#8c8c8c" stroke-width="1"/>
<text x="594.8" y="18.0" font-size="10" text-anchor="middle" fill="#222">ns</text>
<line x1="550.60" y1="216.20" x2="550.60" y2="217.70" stroke="#888" stroke-width="0.8"/>
<line x1="633.60" y1="216.20" x2="633.60" y2="217.70" stroke="#888" stroke-width="0.8"/>
<text x="553.6" y="225.7" font-size="10" text-anchor="end" fill="#222" transform="rotate(-30 553.6 225.7)">No</text>
<text x="636.6" y="225.7" font-size="10" text-anchor="end" fill="#222" transform="rotate(-30 636.6 225.7)">Yes</text>
<text x="1.6" y="259.7" font-size="14.5" text-anchor="start" fill="#000" font-weight="bold">d</text>
<rect x="46.4" y="263.6" width="138.0" height="165.39999999999998" fill="#fff"/>
<line x1="56.70" y1="263.60" x2="56.70" y2="429.00" stroke="#ebebeb" stroke-width="0.5"/>
<line x1="94.60" y1="263.60" x2="94.60" y2="429.00" stroke="#ebebeb" stroke-width="0.5"/>
<line x1="131.60" y1="263.60" x2="131.60" y2="429.00" stroke="#ebebeb" stroke-width="0.5"/>
<line x1="169.20" y1="263.60" x2="169.20" y2="429.00" stroke="#ebebeb" stroke-width="0.5"/>
<line x1="46.40" y1="275.60" x2="184.40" y2="275.60" stroke="#ebebeb" stroke-width="0.5"/>
<line x1="46.40" y1="319.40" x2="184.40" y2="319.40" stroke="#ebebeb" stroke-width="0.5"/>
<line x1="46.40" y1="362.90" x2="184.40" y2="362.90" stroke="#ebebeb" stroke-width="0.5"/>
<line x1="46.40" y1="406.70" x2="184.40" y2="406.70" stroke="#ebebeb" stroke-width="0.5"/>
<line x1="75.90" y1="263.60" x2="75.90" y2="429.00" stroke="#ebebeb" stroke-width="1"/>
<line x1="113.20" y1="263.60" x2="113.20" y2="429.00" stroke="#ebebeb" stroke-width="1"/>
<line x1="150.50" y1="263.60" x2="150.50" y2="429.00" stroke="#ebebeb" stroke-width="1"/>
<line x1="46.40" y1="297.50" x2="184.40" y2="297.50" stroke="#ebebeb" stroke-width="1"/>
<line x1="46.40" y1="341.20" x2="184.40" y2="341.20" stroke="#ebebeb" stroke-width="1"/>
<line x1="46.40" y1="384.60" x2="184.40" y2="384.60" stroke="#ebebeb" stroke-width="1"/>
<ellipse cx="109.3" cy="340.0" rx="57.0" ry="69.2" transform="rotate(2.7 109.3 340.0)" fill="#00ff00" fill-opacity="0.1" stroke="#00ff00" stroke-opacity="0.85" stroke-width="0.95"/>
<ellipse cx="129.25" cy="337.7" rx="43.8" ry="61.6" transform="rotate(28.7 129.25 337.7)" fill="#a020f0" fill-opacity="0.1" stroke="#a020f0" stroke-opacity="0.8" stroke-width="1"/>
<path d="M80.9 298.1 L83.5 302.6 L78.3 302.6Z" fill="#a050e0"/>
<path d="M91.7 387.2 L94.3 391.7 L89.1 391.7Z" fill="#a050e0"/>
<circle cx="79.5" cy="289.3" r="1.95" fill="#18ee18"/>
<circle cx="82.5" cy="290.5" r="1.95" fill="#18ee18"/>
<circle cx="76.2" cy="294.9" r="1.95" fill="#18ee18"/>
<circle cx="79.1" cy="301.2" r="1.95" fill="#18ee18"/>
<circle cx="80.7" cy="302.8" r="1.95" fill="#18ee18"/>
<circle cx="83.6" cy="302.2" r="1.95" fill="#18ee18"/>
<circle cx="78.0" cy="311.8" r="1.95" fill="#18ee18"/>
<circle cx="80.7" cy="310.6" r="1.95" fill="#18ee18"/>
<circle cx="86.2" cy="316.3" r="1.95" fill="#18ee18"/>
<circle cx="82.7" cy="324.6" r="1.95" fill="#18ee18"/>
<circle cx="75.8" cy="329.0" r="1.95" fill="#18ee18"/>
<circle cx="83.0" cy="329.0" r="1.95" fill="#18ee18"/>
<circle cx="90.1" cy="335.2" r="1.95" fill="#18ee18"/>
<circle cx="90.4" cy="336.5" r="1.95" fill="#18ee18"/>
<circle cx="77.6" cy="343.4" r="1.95" fill="#18ee18"/>
<circle cx="91.7" cy="350.8" r="1.95" fill="#18ee18"/>
<circle cx="95.3" cy="358.5" r="1.95" fill="#18ee18"/>
<circle cx="104.3" cy="357.0" r="1.95" fill="#18ee18"/>
<circle cx="89.4" cy="360.3" r="1.95" fill="#18ee18"/>
<circle cx="112.7" cy="370.4" r="1.95" fill="#18ee18"/>
<circle cx="85.0" cy="373.3" r="1.95" fill="#18ee18"/>
<circle cx="89.6" cy="375.5" r="1.95" fill="#18ee18"/>
<circle cx="85.0" cy="380.0" r="1.95" fill="#18ee18"/>
<circle cx="90.1" cy="389.4" r="1.95" fill="#18ee18"/>
<circle cx="93.4" cy="398.6" r="1.95" fill="#18ee18"/>
<circle cx="106.6" cy="397.1" r="1.95" fill="#18ee18"/>
<circle cx="104.3" cy="404.8" r="1.95" fill="#18ee18"/>
<circle cx="148.2" cy="307.4" r="1.95" fill="#18ee18"/>
<circle cx="143.4" cy="318.7" r="1.95" fill="#18ee18"/>
<circle cx="141.3" cy="324.0" r="1.95" fill="#18ee18"/>
<circle cx="137.6" cy="338.1" r="1.95" fill="#18ee18"/>
<circle cx="124.1" cy="342.6" r="1.95" fill="#18ee18"/>
<circle cx="126.1" cy="354.1" r="1.95" fill="#18ee18"/>
<circle cx="112.8" cy="370.1" r="1.95" fill="#18ee18"/>
<circle cx="124.4" cy="370.7" r="1.95" fill="#18ee18"/>
<circle cx="117.6" cy="375.5" r="1.95" fill="#18ee18"/>
<circle cx="117.0" cy="390.6" r="1.95" fill="#18ee18"/>
<circle cx="134.8" cy="403.1" r="1.95" fill="#18ee18"/>
<circle cx="120.6" cy="408.4" r="1.95" fill="#18ee18"/>
<circle cx="120.8" cy="421.8" r="1.95" fill="#18ee18"/>
<path d="M79.5 292.0 L82.1 296.5 L76.9 296.5Z" fill="#a050e0"/>
<path d="M78.9 345.1 L81.5 349.6 L76.3 349.6Z" fill="#a050e0"/>
<path d="M78.6 348.6 L81.2 353.1 L76.0 353.1Z" fill="#a050e0"/>
<path d="M142.6 318.5 L145.2 323.0 L140.0 323.0Z" fill="#a050e0"/>
<path d="M138.1 335.9 L140.7 340.4 L135.5 340.4Z" fill="#a050e0"/>
<path d="M130.8 353.7 L133.4 358.2 L128.2 358.2Z" fill="#a050e0"/>
<path d="M132.5 355.0 L135.1 359.5 L129.9 359.5Z" fill="#a050e0"/>
<path d="M100.4 375.4 L103.0 379.9 L97.8 379.9Z" fill="#a050e0"/>
<path d="M132.5 395.5 L135.1 400.0 L129.9 400.0Z" fill="#a050e0"/>
<path d="M133.2 406.9 L135.8 411.4 L130.6 411.4Z" fill="#a050e0"/>
<rect x="46.4" y="263.6" width="138.0" height="165.39999999999998" fill="none" stroke="#a6a6a6" stroke-width="1"/>
<line x1="44.40" y1="297.50" x2="46.40" y2="297.50" stroke="#333" stroke-width="0.8"/>
<text x="41.0" y="301.1" font-size="10" text-anchor="end" fill="#4d4d4d">0.25</text>
<line x1="44.40" y1="341.20" x2="46.40" y2="341.20" stroke="#333" stroke-width="0.8"/>
<text x="41.0" y="344.8" font-size="10" text-anchor="end" fill="#4d4d4d">0.00</text>
<line x1="44.40" y1="384.60" x2="46.40" y2="384.60" stroke="#333" stroke-width="0.8"/>
<text x="41.0" y="388.2" font-size="10" text-anchor="end" fill="#4d4d4d">−0.25</text>
<line x1="44.40" y1="428.80" x2="46.40" y2="428.80" stroke="#333" stroke-width="0.8"/>
<text x="41.0" y="432.4" font-size="10" text-anchor="end" fill="#4d4d4d">−0.50</text>
<line x1="75.90" y1="429.00" x2="75.90" y2="431.00" stroke="#333" stroke-width="0.8"/>
<text x="75.9" y="441.5" font-size="10" text-anchor="middle" fill="#4d4d4d">−0.4</text>
<line x1="113.20" y1="429.00" x2="113.20" y2="431.00" stroke="#333" stroke-width="0.8"/>
<text x="113.2" y="441.5" font-size="10" text-anchor="middle" fill="#4d4d4d">0.0</text>
<line x1="150.50" y1="429.00" x2="150.50" y2="431.00" stroke="#333" stroke-width="0.8"/>
<text x="150.5" y="441.5" font-size="10" text-anchor="middle" fill="#4d4d4d">0.4</text>
<text x="115.5" y="456.0" font-size="10" text-anchor="middle" fill="#222">PCo1 [20.6%]</text>
<text x="8.5" y="345.3" font-size="10" text-anchor="middle" fill="#222" transform="rotate(-90 8.5 345.3)">PCo2 [9.3%]</text>
<text x="188.8" y="338.8" font-size="8.4" text-anchor="start" fill="#222">Wheezing</text>
<rect x="192" y="343" width="7.4" height="6.4" fill="#00ff00" fill-opacity="0.1" stroke="#00ff00" stroke-opacity="0.75" stroke-width="0.7"/>
<circle cx="195.7" cy="346.2" r="1.9" fill="#10f010"/>
<rect x="192" y="350.4" width="7.4" height="6.4" fill="#a020f0" fill-opacity="0.1" stroke="#a020f0" stroke-opacity="0.6" stroke-width="0.7"/>
<path d="M195.7 351.4 L198.0 355.4 L193.4 355.4Z" fill="#a050e0"/>
<text x="202.6" y="348.8" font-size="8" text-anchor="start" fill="#222">No</text>
<text x="202.6" y="356.4" font-size="8" text-anchor="start" fill="#222">Yes</text>
<text x="106.0" y="477.0" font-size="9.8" text-anchor="start" fill="#222" font-style="italic">R2</text>
<text x="146.0" y="477.0" font-size="9.8" text-anchor="start" fill="#222"><tspan font-style="italic">P</tspan>valor</text>
<text x="48.4" y="486.5" font-size="9.6" text-anchor="start" fill="#222">Wheezing</text>
<text x="100.0" y="486.5" font-size="9.6" text-anchor="start" fill="#222">0.0392</text>
<text x="146.6" y="486.5" font-size="9.6" text-anchor="start" fill="#222">0.031*</text>
<text x="48.4" y="496.5" font-size="9.6" text-anchor="start" fill="#222">Delivery</text>
<text x="100.0" y="496.5" font-size="9.6" text-anchor="start" fill="#222">0.0252</text>
<text x="146.6" y="496.5" font-size="9.6" text-anchor="start" fill="#222">0.022*</text>
<text x="48.4" y="506.5" font-size="9.6" text-anchor="start" fill="#222">Antibiotics</text>
<text x="101.0" y="506.5" font-size="9.6" text-anchor="start" fill="#222">0.0289</text>
<text x="148.0" y="506.5" font-size="9.6" text-anchor="start" fill="#222">0.013*</text>
<text x="241.5" y="259.8" font-size="14.5" text-anchor="start" fill="#000" font-weight="bold">e</text>
<line x1="277.00" y1="264.60" x2="277.00" y2="460.60" stroke="#a8a8a8" stroke-width="1.9"/>
<line x1="276.10" y1="460.10" x2="447.40" y2="460.10" stroke="#999" stroke-width="1.2"/>
<line x1="274.00" y1="313.60" x2="276.00" y2="313.60" stroke="#555" stroke-width="0.8"/>
<text x="271.5" y="317.2" font-size="10" text-anchor="end" fill="#222">0.9</text>
<line x1="274.00" y1="363.00" x2="276.00" y2="363.00" stroke="#555" stroke-width="0.8"/>
<text x="271.5" y="366.6" font-size="10" text-anchor="end" fill="#222">0.6</text>
<line x1="274.00" y1="412.20" x2="276.00" y2="412.20" stroke="#555" stroke-width="0.8"/>
<text x="271.5" y="415.8" font-size="10" text-anchor="end" fill="#222">0.3</text>
<line x1="323.40" y1="460.00" x2="323.40" y2="462.00" stroke="#555" stroke-width="0.8"/>
<line x1="400.70" y1="460.00" x2="400.70" y2="462.00" stroke="#555" stroke-width="0.8"/>
<text x="326.9" y="469.0" font-size="10" text-anchor="end" fill="#222" transform="rotate(-30 326.9 469.0)">No</text>
<text x="404.2" y="469.0" font-size="10" text-anchor="end" fill="#222" transform="rotate(-30 404.2 469.0)">Yes</text>
<text x="251.2" y="362.7" font-size="9.8" text-anchor="middle" fill="#222" transform="rotate(-90 251.2 362.7)">Bray–Curtis distance</text>
<line x1="323.40" y1="346.60" x2="323.40" y2="421.00" stroke="#00ff00" stroke-width="1" stroke-opacity="0.9"/>
<line x1="296.40" y1="296.50" x2="350.40" y2="296.50" stroke="#00ff00" stroke-width="1" stroke-opacity="0.45"/>
<line x1="296.40" y1="296.00" x2="296.40" y2="346.60" stroke="#00ff00" stroke-width="1" stroke-opacity="0.8"/>
<line x1="350.40" y1="296.00" x2="350.40" y2="346.60" stroke="#00ff00" stroke-width="1" stroke-opacity="0.8"/>
<line x1="295.90" y1="346.60" x2="350.90" y2="346.60" stroke="#00ff00" stroke-width="1" stroke-opacity="0.8"/>
<line x1="296.40" y1="302.20" x2="350.40" y2="302.20" stroke="#00ff00" stroke-width="1.5" stroke-opacity="1"/>
<circle cx="323.6" cy="324.4" r="1.7" fill="#00ff00"/>
<line x1="400.70" y1="302.30" x2="400.70" y2="305.50" stroke="#a020f0" stroke-width="1" stroke-opacity="0.8"/>
<rect x="373.50" y="296.50" width="54.50" height="5.80" fill="none" stroke="#a020f0" stroke-width="1" stroke-opacity="0.65"/>
<line x1="373.50" y1="296.60" x2="428.00" y2="296.60" stroke="#a020f0" stroke-width="1.4" stroke-opacity="0.75"/>
<circle cx="400.7" cy="307.4" r="2.1" fill="#a020f0"/>
<path d="M323.4 278.4 V273.4 H400.7 V278.4" fill="none" stroke="#444" stroke-width="1"/>
<text x="362.2" y="271.3" font-size="5" text-anchor="middle" fill="#444">***</text>
<text x="481.5" y="259.7" font-size="14.5" text-anchor="start" fill="#000" font-weight="bold">f</text>
<ellipse cx="607.3" cy="344.5" rx="38.6" ry="30.8" transform="rotate(-2.1 607.3 344.5)" fill="#00ff00" fill-opacity="0.5" stroke="#333" stroke-width="0.8"/>
<ellipse cx="613.0" cy="340.5" rx="49.3" ry="31.6" transform="rotate(18.7 613.0 340.5)" fill="#a020f0" fill-opacity="0.5" stroke="#333" stroke-width="0.8"/>
<line x1="612.60" y1="340.60" x2="525.60" y2="298.00" stroke="#00ff00" stroke-width="0.75"/>
<line x1="612.60" y1="340.60" x2="533.70" y2="306.10" stroke="#00ff00" stroke-width="0.75"/>
<line x1="612.60" y1="340.60" x2="530.10" y2="309.80" stroke="#00ff00" stroke-width="0.75"/>
<line x1="612.60" y1="340.60" x2="521.70" y2="311.90" stroke="#00ff00" stroke-width="0.75"/>
<line x1="612.60" y1="340.60" x2="524.20" y2="312.10" stroke="#00ff00" stroke-width="0.75"/>
<line x1="612.60" y1="340.60" x2="542.50" y2="319.10" stroke="#00ff00" stroke-width="0.75"/>
<line x1="612.60" y1="340.60" x2="567.60" y2="321.30" stroke="#00ff00" stroke-width="0.75"/>
<line x1="612.60" y1="340.60" x2="570.40" y2="328.80" stroke="#00ff00" stroke-width="0.75"/>
<line x1="612.60" y1="340.60" x2="573.00" y2="327.50" stroke="#00ff00" stroke-width="0.75"/>
<line x1="612.60" y1="340.60" x2="574.30" y2="334.70" stroke="#00ff00" stroke-width="0.75"/>
<line x1="612.60" y1="340.60" x2="570.40" y2="340.30" stroke="#00ff00" stroke-width="0.75"/>
<line x1="612.60" y1="340.60" x2="620.10" y2="292.40" stroke="#00ff00" stroke-width="0.75"/>
<line x1="612.60" y1="340.60" x2="609.20" y2="298.40" stroke="#00ff00" stroke-width="0.75"/>
<line x1="612.60" y1="340.60" x2="611.70" y2="301.70" stroke="#00ff00" stroke-width="0.75"/>
<line x1="612.60" y1="340.60" x2="615.70" y2="305.50" stroke="#00ff00" stroke-width="0.75"/>
<line x1="612.60" y1="340.60" x2="645.50" y2="290.60" stroke="#00ff00" stroke-width="0.75"/>
<line x1="612.60" y1="340.60" x2="641.20" y2="298.60" stroke="#00ff00" stroke-width="0.75"/>
<line x1="612.60" y1="340.60" x2="655.20" y2="296.10" stroke="#00ff00" stroke-width="0.75"/>
<line x1="612.60" y1="340.60" x2="652.00" y2="304.50" stroke="#00ff00" stroke-width="0.75"/>
<line x1="612.60" y1="340.60" x2="642.50" y2="307.10" stroke="#00ff00" stroke-width="0.75"/>
<line x1="612.60" y1="340.60" x2="646.20" y2="308.90" stroke="#00ff00" stroke-width="0.75"/>
<line x1="612.60" y1="340.60" x2="637.50" y2="313.30" stroke="#00ff00" stroke-width="0.75"/>
<line x1="612.60" y1="340.60" x2="640.60" y2="317.00" stroke="#00ff00" stroke-width="0.75"/>
<line x1="612.60" y1="340.60" x2="621.00" y2="313.80" stroke="#00ff00" stroke-width="0.75"/>
<line x1="612.60" y1="340.60" x2="614.50" y2="318.80" stroke="#00ff00" stroke-width="0.75"/>
<line x1="612.60" y1="340.60" x2="591.20" y2="315.00" stroke="#00ff00" stroke-width="0.75"/>
<line x1="612.60" y1="340.60" x2="591.40" y2="317.90" stroke="#00ff00" stroke-width="0.75"/>
<line x1="612.60" y1="340.60" x2="595.20" y2="321.00" stroke="#00ff00" stroke-width="0.75"/>
<line x1="612.60" y1="340.60" x2="599.90" y2="322.90" stroke="#00ff00" stroke-width="0.75"/>
<line x1="612.60" y1="340.60" x2="602.00" y2="325.70" stroke="#00ff00" stroke-width="0.75"/>
<line x1="612.60" y1="340.60" x2="589.30" y2="325.70" stroke="#00ff00" stroke-width="0.75"/>
<line x1="612.60" y1="340.60" x2="599.30" y2="329.70" stroke="#00ff00" stroke-width="0.75"/>
<line x1="612.60" y1="340.60" x2="605.20" y2="330.10" stroke="#00ff00" stroke-width="0.75"/>
<line x1="612.60" y1="340.60" x2="598.60" y2="337.50" stroke="#00ff00" stroke-width="0.75"/>
<line x1="612.60" y1="340.60" x2="626.60" y2="337.10" stroke="#00ff00" stroke-width="0.75"/>
<line x1="612.60" y1="340.60" x2="631.60" y2="339.00" stroke="#00ff00" stroke-width="0.75"/>
<line x1="612.60" y1="340.60" x2="634.70" y2="340.00" stroke="#00ff00" stroke-width="0.75"/>
<line x1="612.60" y1="340.60" x2="656.40" y2="331.60" stroke="#00ff00" stroke-width="0.75"/>
<line x1="612.60" y1="340.60" x2="658.30" y2="332.80" stroke="#00ff00" stroke-width="0.75"/>
<line x1="612.60" y1="340.60" x2="674.30" y2="312.00" stroke="#00ff00" stroke-width="0.75"/>
<line x1="612.60" y1="340.60" x2="665.80" y2="324.10" stroke="#00ff00" stroke-width="0.75"/>
<line x1="612.60" y1="340.60" x2="671.80" y2="324.80" stroke="#00ff00" stroke-width="0.75"/>
<line x1="612.60" y1="340.60" x2="663.50" y2="330.00" stroke="#00ff00" stroke-width="0.75"/>
<line x1="612.60" y1="340.60" x2="670.40" y2="330.80" stroke="#00ff00" stroke-width="0.75"/>
<line x1="612.60" y1="340.60" x2="673.50" y2="334.20" stroke="#00ff00" stroke-width="0.75"/>
<line x1="612.60" y1="340.60" x2="677.10" y2="333.90" stroke="#00ff00" stroke-width="0.75"/>
<line x1="612.60" y1="340.60" x2="655.60" y2="330.80" stroke="#00ff00" stroke-width="0.75"/>
<line x1="612.60" y1="340.60" x2="635.00" y2="340.60" stroke="#00ff00" stroke-width="0.75"/>
<line x1="612.60" y1="340.60" x2="632.00" y2="344.70" stroke="#00ff00" stroke-width="0.75"/>
<line x1="612.60" y1="340.60" x2="621.20" y2="349.30" stroke="#00ff00" stroke-width="0.75"/>
<line x1="612.60" y1="340.60" x2="565.90" y2="342.70" stroke="#00ff00" stroke-width="0.75"/>
<line x1="612.60" y1="340.60" x2="575.20" y2="344.00" stroke="#00ff00" stroke-width="0.75"/>
<line x1="612.60" y1="340.60" x2="580.00" y2="345.30" stroke="#00ff00" stroke-width="0.75"/>
<line x1="612.60" y1="340.60" x2="586.00" y2="342.70" stroke="#00ff00" stroke-width="0.75"/>
<line x1="612.60" y1="340.60" x2="599.00" y2="337.60" stroke="#00ff00" stroke-width="0.75"/>
<line x1="612.60" y1="340.60" x2="563.10" y2="361.20" stroke="#00ff00" stroke-width="0.75"/>
<line x1="612.60" y1="340.60" x2="560.50" y2="370.70" stroke="#00ff00" stroke-width="0.75"/>
<line x1="612.60" y1="340.60" x2="566.50" y2="373.50" stroke="#00ff00" stroke-width="0.75"/>
<line x1="612.60" y1="340.60" x2="572.60" y2="370.90" stroke="#00ff00" stroke-width="0.75"/>
<line x1="612.60" y1="340.60" x2="576.40" y2="367.90" stroke="#00ff00" stroke-width="0.75"/>
<line x1="612.60" y1="340.60" x2="555.20" y2="377.90" stroke="#00ff00" stroke-width="0.75"/>
<line x1="612.60" y1="340.60" x2="558.80" y2="380.20" stroke="#00ff00" stroke-width="0.75"/>
<line x1="612.60" y1="340.60" x2="563.60" y2="383.80" stroke="#00ff00" stroke-width="0.75"/>
<line x1="612.60" y1="340.60" x2="568.70" y2="381.70" stroke="#00ff00" stroke-width="0.75"/>
<line x1="612.60" y1="340.60" x2="600.10" y2="356.00" stroke="#00ff00" stroke-width="0.75"/>
<line x1="612.60" y1="340.60" x2="596.30" y2="365.80" stroke="#00ff00" stroke-width="0.75"/>
<line x1="612.60" y1="340.60" x2="600.60" y2="375.60" stroke="#00ff00" stroke-width="0.75"/>
<line x1="612.60" y1="340.60" x2="604.50" y2="379.10" stroke="#00ff00" stroke-width="0.75"/>
<line x1="612.60" y1="340.60" x2="589.10" y2="383.80" stroke="#00ff00" stroke-width="0.75"/>
<line x1="612.60" y1="340.60" x2="632.30" y2="344.80" stroke="#00ff00" stroke-width="0.75"/>
<line x1="612.60" y1="340.60" x2="617.70" y2="346.60" stroke="#00ff00" stroke-width="0.75"/>
<line x1="612.60" y1="340.60" x2="621.60" y2="349.40" stroke="#00ff00" stroke-width="0.75"/>
<line x1="612.60" y1="340.60" x2="650.80" y2="355.50" stroke="#00ff00" stroke-width="0.75"/>
<line x1="612.60" y1="340.60" x2="664.20" y2="357.80" stroke="#00ff00" stroke-width="0.75"/>
<line x1="612.60" y1="340.60" x2="669.30" y2="363.70" stroke="#00ff00" stroke-width="0.75"/>
<line x1="612.60" y1="340.60" x2="659.30" y2="376.10" stroke="#00ff00" stroke-width="0.75"/>
<line x1="612.60" y1="340.60" x2="631.10" y2="367.00" stroke="#00ff00" stroke-width="0.75"/>
<line x1="612.60" y1="340.60" x2="610.30" y2="356.80" stroke="#00ff00" stroke-width="0.75"/>
<line x1="612.60" y1="340.60" x2="609.50" y2="362.20" stroke="#00ff00" stroke-width="0.75"/>
<line x1="612.60" y1="340.60" x2="605.10" y2="362.70" stroke="#00ff00" stroke-width="0.75"/>
<line x1="612.60" y1="340.60" x2="621.90" y2="371.10" stroke="#00ff00" stroke-width="0.75"/>
<line x1="612.60" y1="340.60" x2="624.60" y2="376.60" stroke="#00ff00" stroke-width="0.75"/>
<line x1="612.60" y1="340.60" x2="628.50" y2="376.60" stroke="#00ff00" stroke-width="0.75"/>
<line x1="612.60" y1="340.60" x2="631.30" y2="375.00" stroke="#00ff00" stroke-width="0.75"/>
<line x1="612.60" y1="340.60" x2="634.90" y2="378.10" stroke="#00ff00" stroke-width="0.75"/>
<line x1="612.60" y1="340.60" x2="633.40" y2="382.70" stroke="#00ff00" stroke-width="0.75"/>
<line x1="612.60" y1="340.60" x2="580.50" y2="400.80" stroke="#00ff00" stroke-width="0.75"/>
<line x1="612.60" y1="340.60" x2="584.80" y2="406.60" stroke="#00ff00" stroke-width="0.75"/>
<line x1="612.60" y1="340.60" x2="581.70" y2="410.70" stroke="#00ff00" stroke-width="0.75"/>
<line x1="612.60" y1="340.60" x2="591.40" y2="398.80" stroke="#00ff00" stroke-width="0.75"/>
<line x1="612.60" y1="340.60" x2="591.10" y2="408.90" stroke="#00ff00" stroke-width="0.75"/>
<line x1="612.60" y1="340.60" x2="588.60" y2="417.00" stroke="#00ff00" stroke-width="0.75"/>
<line x1="612.60" y1="340.60" x2="626.50" y2="392.00" stroke="#00ff00" stroke-width="0.75"/>
<line x1="612.60" y1="340.60" x2="624.30" y2="376.80" stroke="#00ff00" stroke-width="0.75"/>
<line x1="612.60" y1="340.60" x2="628.10" y2="377.50" stroke="#00ff00" stroke-width="0.75"/>
<line x1="612.60" y1="340.60" x2="673.80" y2="360.40" stroke="#00ff00" stroke-width="0.75"/>
<line x1="612.60" y1="340.60" x2="531.60" y2="298.50" stroke="#a020f0" stroke-width="0.75"/>
<line x1="612.60" y1="340.60" x2="524.00" y2="304.60" stroke="#a020f0" stroke-width="0.75"/>
<line x1="612.60" y1="340.60" x2="543.50" y2="305.90" stroke="#a020f0" stroke-width="0.75"/>
<line x1="612.60" y1="340.60" x2="523.40" y2="314.60" stroke="#a020f0" stroke-width="0.75"/>
<line x1="612.60" y1="340.60" x2="562.40" y2="335.50" stroke="#a020f0" stroke-width="0.75"/>
<line x1="612.60" y1="340.60" x2="617.00" y2="289.30" stroke="#a020f0" stroke-width="0.75"/>
<line x1="612.60" y1="340.60" x2="606.70" y2="295.50" stroke="#a020f0" stroke-width="0.75"/>
<line x1="612.60" y1="340.60" x2="599.90" y2="297.80" stroke="#a020f0" stroke-width="0.75"/>
<line x1="612.60" y1="340.60" x2="620.40" y2="297.80" stroke="#a020f0" stroke-width="0.75"/>
<line x1="612.60" y1="340.60" x2="643.60" y2="295.30" stroke="#a020f0" stroke-width="0.75"/>
<line x1="612.60" y1="340.60" x2="595.30" y2="328.40" stroke="#a020f0" stroke-width="0.75"/>
<line x1="612.60" y1="340.60" x2="609.80" y2="331.90" stroke="#a020f0" stroke-width="0.75"/>
<line x1="612.60" y1="340.60" x2="670.40" y2="315.60" stroke="#a020f0" stroke-width="0.75"/>
<line x1="612.60" y1="340.60" x2="678.70" y2="325.70" stroke="#a020f0" stroke-width="0.75"/>
<line x1="612.60" y1="340.60" x2="629.40" y2="347.70" stroke="#a020f0" stroke-width="0.75"/>
<line x1="612.60" y1="340.60" x2="557.20" y2="367.30" stroke="#a020f0" stroke-width="0.75"/>
<line x1="612.60" y1="340.60" x2="564.30" y2="379.10" stroke="#a020f0" stroke-width="0.75"/>
<line x1="612.60" y1="340.60" x2="593.10" y2="359.60" stroke="#a020f0" stroke-width="0.75"/>
<line x1="612.60" y1="340.60" x2="661.30" y2="358.10" stroke="#a020f0" stroke-width="0.75"/>
<line x1="612.60" y1="340.60" x2="658.30" y2="361.20" stroke="#a020f0" stroke-width="0.75"/>
<line x1="612.60" y1="340.60" x2="667.50" y2="360.00" stroke="#a020f0" stroke-width="0.75"/>
<line x1="612.60" y1="340.60" x2="654.90" y2="369.90" stroke="#a020f0" stroke-width="0.75"/>
<line x1="612.60" y1="340.60" x2="660.40" y2="373.00" stroke="#a020f0" stroke-width="0.75"/>
<line x1="612.60" y1="340.60" x2="635.90" y2="371.40" stroke="#a020f0" stroke-width="0.75"/>
<line x1="612.60" y1="340.60" x2="628.50" y2="381.70" stroke="#a020f0" stroke-width="0.75"/>
<line x1="612.60" y1="340.60" x2="577.10" y2="407.30" stroke="#a020f0" stroke-width="0.75"/>
<line x1="612.60" y1="340.60" x2="633.00" y2="391.10" stroke="#a020f0" stroke-width="0.75"/>
<line x1="612.60" y1="340.60" x2="671.40" y2="368.40" stroke="#a020f0" stroke-width="0.75"/>
<ellipse cx="525.6" cy="298.0" rx="1.95" ry="2.25" fill="#00ff00"/>
<ellipse cx="533.7" cy="306.1" rx="1.95" ry="2.25" fill="#00ff00"/>
<ellipse cx="530.1" cy="309.8" rx="1.95" ry="2.25" fill="#00ff00"/>
<ellipse cx="521.7" cy="311.9" rx="1.95" ry="2.25" fill="#00ff00"/>
<ellipse cx="524.2" cy="312.1" rx="1.95" ry="2.25" fill="#00ff00"/>
<ellipse cx="542.5" cy="319.1" rx="1.95" ry="2.25" fill="#00ff00"/>
<ellipse cx="567.6" cy="321.3" rx="1.95" ry="2.25" fill="#00ff00"/>
<ellipse cx="570.4" cy="328.8" rx="1.95" ry="2.25" fill="#00ff00"/>
<ellipse cx="573.0" cy="327.5" rx="1.95" ry="2.25" fill="#00ff00"/>
<ellipse cx="574.3" cy="334.7" rx="1.95" ry="2.25" fill="#00ff00"/>
<ellipse cx="570.4" cy="340.3" rx="1.95" ry="2.25" fill="#00ff00"/>
<ellipse cx="620.1" cy="292.4" rx="1.95" ry="2.25" fill="#00ff00"/>
<ellipse cx="609.2" cy="298.4" rx="1.95" ry="2.25" fill="#00ff00"/>
<ellipse cx="611.7" cy="301.7" rx="1.95" ry="2.25" fill="#00ff00"/>
<ellipse cx="615.7" cy="305.5" rx="1.95" ry="2.25" fill="#00ff00"/>
<ellipse cx="645.5" cy="290.6" rx="1.95" ry="2.25" fill="#00ff00"/>
<ellipse cx="641.2" cy="298.6" rx="1.95" ry="2.25" fill="#00ff00"/>
<ellipse cx="655.2" cy="296.1" rx="1.95" ry="2.25" fill="#00ff00"/>
<ellipse cx="652.0" cy="304.5" rx="1.95" ry="2.25" fill="#00ff00"/>
<ellipse cx="642.5" cy="307.1" rx="1.95" ry="2.25" fill="#00ff00"/>
<ellipse cx="646.2" cy="308.9" rx="1.95" ry="2.25" fill="#00ff00"/>
<ellipse cx="637.5" cy="313.3" rx="1.95" ry="2.25" fill="#00ff00"/>
<ellipse cx="640.6" cy="317.0" rx="1.95" ry="2.25" fill="#00ff00"/>
<ellipse cx="621.0" cy="313.8" rx="1.95" ry="2.25" fill="#00ff00"/>
<ellipse cx="614.5" cy="318.8" rx="1.95" ry="2.25" fill="#00ff00"/>
<ellipse cx="591.2" cy="315.0" rx="1.95" ry="2.25" fill="#00ff00"/>
<ellipse cx="591.4" cy="317.9" rx="1.95" ry="2.25" fill="#00ff00"/>
<ellipse cx="595.2" cy="321.0" rx="1.95" ry="2.25" fill="#00ff00"/>
<ellipse cx="599.9" cy="322.9" rx="1.95" ry="2.25" fill="#00ff00"/>
<ellipse cx="602.0" cy="325.7" rx="1.95" ry="2.25" fill="#00ff00"/>
<ellipse cx="589.3" cy="325.7" rx="1.95" ry="2.25" fill="#00ff00"/>
<ellipse cx="599.3" cy="329.7" rx="1.95" ry="2.25" fill="#00ff00"/>
<ellipse cx="605.2" cy="330.1" rx="1.95" ry="2.25" fill="#00ff00"/>
<ellipse cx="598.6" cy="337.5" rx="1.95" ry="2.25" fill="#00ff00"/>
<ellipse cx="626.6" cy="337.1" rx="1.95" ry="2.25" fill="#00ff00"/>
<ellipse cx="631.6" cy="339.0" rx="1.95" ry="2.25" fill="#00ff00"/>
<ellipse cx="634.7" cy="340.0" rx="1.95" ry="2.25" fill="#00ff00"/>
<ellipse cx="656.4" cy="331.6" rx="1.95" ry="2.25" fill="#00ff00"/>
<ellipse cx="658.3" cy="332.8" rx="1.95" ry="2.25" fill="#00ff00"/>
<ellipse cx="674.3" cy="312.0" rx="1.95" ry="2.25" fill="#00ff00"/>
<ellipse cx="665.8" cy="324.1" rx="1.95" ry="2.25" fill="#00ff00"/>
<ellipse cx="671.8" cy="324.8" rx="1.95" ry="2.25" fill="#00ff00"/>
<ellipse cx="663.5" cy="330.0" rx="1.95" ry="2.25" fill="#00ff00"/>
<ellipse cx="670.4" cy="330.8" rx="1.95" ry="2.25" fill="#00ff00"/>
<ellipse cx="673.5" cy="334.2" rx="1.95" ry="2.25" fill="#00ff00"/>
<ellipse cx="677.1" cy="333.9" rx="1.95" ry="2.25" fill="#00ff00"/>
<ellipse cx="655.6" cy="330.8" rx="1.95" ry="2.25" fill="#00ff00"/>
<ellipse cx="635.0" cy="340.6" rx="1.95" ry="2.25" fill="#00ff00"/>
<ellipse cx="632.0" cy="344.7" rx="1.95" ry="2.25" fill="#00ff00"/>
<ellipse cx="621.2" cy="349.3" rx="1.95" ry="2.25" fill="#00ff00"/>
<ellipse cx="565.9" cy="342.7" rx="1.95" ry="2.25" fill="#00ff00"/>
<ellipse cx="575.2" cy="344.0" rx="1.95" ry="2.25" fill="#00ff00"/>
<ellipse cx="580.0" cy="345.3" rx="1.95" ry="2.25" fill="#00ff00"/>
<ellipse cx="586.0" cy="342.7" rx="1.95" ry="2.25" fill="#00ff00"/>
<ellipse cx="599.0" cy="337.6" rx="1.95" ry="2.25" fill="#00ff00"/>
<ellipse cx="563.1" cy="361.2" rx="1.95" ry="2.25" fill="#00ff00"/>
<ellipse cx="560.5" cy="370.7" rx="1.95" ry="2.25" fill="#00ff00"/>
<ellipse cx="566.5" cy="373.5" rx="1.95" ry="2.25" fill="#00ff00"/>
<ellipse cx="572.6" cy="370.9" rx="1.95" ry="2.25" fill="#00ff00"/>
<ellipse cx="576.4" cy="367.9" rx="1.95" ry="2.25" fill="#00ff00"/>
<ellipse cx="555.2" cy="377.9" rx="1.95" ry="2.25" fill="#00ff00"/>
<ellipse cx="558.8" cy="380.2" rx="1.95" ry="2.25" fill="#00ff00"/>
<ellipse cx="563.6" cy="383.8" rx="1.95" ry="2.25" fill="#00ff00"/>
<ellipse cx="568.7" cy="381.7" rx="1.95" ry="2.25" fill="#00ff00"/>
<ellipse cx="600.1" cy="356.0" rx="1.95" ry="2.25" fill="#00ff00"/>
<ellipse cx="596.3" cy="365.8" rx="1.95" ry="2.25" fill="#00ff00"/>
<ellipse cx="600.6" cy="375.6" rx="1.95" ry="2.25" fill="#00ff00"/>
<ellipse cx="604.5" cy="379.1" rx="1.95" ry="2.25" fill="#00ff00"/>
<ellipse cx="589.1" cy="383.8" rx="1.95" ry="2.25" fill="#00ff00"/>
<ellipse cx="632.3" cy="344.8" rx="1.95" ry="2.25" fill="#00ff00"/>
<ellipse cx="617.7" cy="346.6" rx="1.95" ry="2.25" fill="#00ff00"/>
<ellipse cx="621.6" cy="349.4" rx="1.95" ry="2.25" fill="#00ff00"/>
<ellipse cx="650.8" cy="355.5" rx="1.95" ry="2.25" fill="#00ff00"/>
<ellipse cx="664.2" cy="357.8" rx="1.95" ry="2.25" fill="#00ff00"/>
<ellipse cx="669.3" cy="363.7" rx="1.95" ry="2.25" fill="#00ff00"/>
<ellipse cx="659.3" cy="376.1" rx="1.95" ry="2.25" fill="#00ff00"/>
<ellipse cx="631.1" cy="367.0" rx="1.95" ry="2.25" fill="#00ff00"/>
<ellipse cx="610.3" cy="356.8" rx="1.95" ry="2.25" fill="#00ff00"/>
<ellipse cx="609.5" cy="362.2" rx="1.95" ry="2.25" fill="#00ff00"/>
<ellipse cx="605.1" cy="362.7" rx="1.95" ry="2.25" fill="#00ff00"/>
<ellipse cx="621.9" cy="371.1" rx="1.95" ry="2.25" fill="#00ff00"/>
<ellipse cx="624.6" cy="376.6" rx="1.95" ry="2.25" fill="#00ff00"/>
<ellipse cx="628.5" cy="376.6" rx="1.95" ry="2.25" fill="#00ff00"/>
<ellipse cx="631.3" cy="375.0" rx="1.95" ry="2.25" fill="#00ff00"/>
<ellipse cx="634.9" cy="378.1" rx="1.95" ry="2.25" fill="#00ff00"/>
<ellipse cx="633.4" cy="382.7" rx="1.95" ry="2.25" fill="#00ff00"/>
<ellipse cx="580.5" cy="400.8" rx="1.95" ry="2.25" fill="#00ff00"/>
<ellipse cx="584.8" cy="406.6" rx="1.95" ry="2.25" fill="#00ff00"/>
<ellipse cx="581.7" cy="410.7" rx="1.95" ry="2.25" fill="#00ff00"/>
<ellipse cx="591.4" cy="398.8" rx="1.95" ry="2.25" fill="#00ff00"/>
<ellipse cx="591.1" cy="408.9" rx="1.95" ry="2.25" fill="#00ff00"/>
<ellipse cx="588.6" cy="417.0" rx="1.95" ry="2.25" fill="#00ff00"/>
<ellipse cx="626.5" cy="392.0" rx="1.95" ry="2.25" fill="#00ff00"/>
<ellipse cx="624.3" cy="376.8" rx="1.95" ry="2.25" fill="#00ff00"/>
<ellipse cx="628.1" cy="377.5" rx="1.95" ry="2.25" fill="#00ff00"/>
<ellipse cx="673.8" cy="360.4" rx="1.95" ry="2.25" fill="#00ff00"/>
<ellipse cx="531.6" cy="298.5" rx="1.95" ry="2.25" fill="#a020f0"/>
<ellipse cx="524.0" cy="304.6" rx="1.95" ry="2.25" fill="#a020f0"/>
<ellipse cx="543.5" cy="305.9" rx="1.95" ry="2.25" fill="#a020f0"/>
<ellipse cx="523.4" cy="314.6" rx="1.95" ry="2.25" fill="#a020f0"/>
<ellipse cx="562.4" cy="335.5" rx="1.95" ry="2.25" fill="#a020f0"/>
<ellipse cx="617.0" cy="289.3" rx="1.95" ry="2.25" fill="#a020f0"/>
<ellipse cx="606.7" cy="295.5" rx="1.95" ry="2.25" fill="#a020f0"/>
<ellipse cx="599.9" cy="297.8" rx="1.95" ry="2.25" fill="#a020f0"/>
<ellipse cx="620.4" cy="297.8" rx="1.95" ry="2.25" fill="#a020f0"/>
<ellipse cx="643.6" cy="295.3" rx="1.95" ry="2.25" fill="#a020f0"/>
<ellipse cx="595.3" cy="328.4" rx="1.95" ry="2.25" fill="#a020f0"/>
<ellipse cx="609.8" cy="331.9" rx="1.95" ry="2.25" fill="#a020f0"/>
<ellipse cx="670.4" cy="315.6" rx="1.95" ry="2.25" fill="#a020f0"/>
<ellipse cx="678.7" cy="325.7" rx="1.95" ry="2.25" fill="#a020f0"/>
<ellipse cx="629.4" cy="347.7" rx="1.95" ry="2.25" fill="#a020f0"/>
<ellipse cx="557.2" cy="367.3" rx="1.95" ry="2.25" fill="#a020f0"/>
<ellipse cx="564.3" cy="379.1" rx="1.95" ry="2.25" fill="#a020f0"/>
<ellipse cx="593.1" cy="359.6" rx="1.95" ry="2.25" fill="#a020f0"/>
<ellipse cx="661.3" cy="358.1" rx="1.95" ry="2.25" fill="#a020f0"/>
<ellipse cx="658.3" cy="361.2" rx="1.95" ry="2.25" fill="#a020f0"/>
<ellipse cx="667.5" cy="360.0" rx="1.95" ry="2.25" fill="#a020f0"/>
<ellipse cx="654.9" cy="369.9" rx="1.95" ry="2.25" fill="#a020f0"/>
<ellipse cx="660.4" cy="373.0" rx="1.95" ry="2.25" fill="#a020f0"/>
<ellipse cx="635.9" cy="371.4" rx="1.95" ry="2.25" fill="#a020f0"/>
<ellipse cx="628.5" cy="381.7" rx="1.95" ry="2.25" fill="#a020f0"/>
<ellipse cx="577.1" cy="407.3" rx="1.95" ry="2.25" fill="#a020f0"/>
<ellipse cx="633.0" cy="391.1" rx="1.95" ry="2.25" fill="#a020f0"/>
<ellipse cx="671.4" cy="368.4" rx="1.95" ry="2.25" fill="#a020f0"/>
<rect x="515.6" y="263.0" width="168.79999999999995" height="179.2" fill="none" stroke="#444" stroke-width="1"/>
<line x1="511.60" y1="265.30" x2="515.60" y2="265.30" stroke="#999" stroke-width="0.9"/>
<text x="507.4" y="268.6" font-size="10.4" text-anchor="end" fill="#000" transform="translate(507.4 268.6) rotate(0) scale(0.88 1) translate(-507.4 -268.6)" stroke="#000" stroke-width="0.15">2</text>
<line x1="511.60" y1="304.50" x2="515.60" y2="304.50" stroke="#999" stroke-width="0.9"/>
<text x="507.4" y="307.8" font-size="10.4" text-anchor="end" fill="#000" transform="translate(507.4 307.8) rotate(0) scale(0.88 1) translate(-507.4 -307.8)" stroke="#000" stroke-width="0.15">1</text>
<line x1="511.60" y1="343.70" x2="515.60" y2="343.70" stroke="#999" stroke-width="0.9"/>
<text x="507.4" y="347.0" font-size="10.4" text-anchor="end" fill="#000" transform="translate(507.4 347.0) rotate(0) scale(0.88 1) translate(-507.4 -347.0)" stroke="#000" stroke-width="0.15">0</text>
<line x1="511.60" y1="382.90" x2="515.60" y2="382.90" stroke="#999" stroke-width="0.9"/>
<text x="507.4" y="386.2" font-size="10.4" text-anchor="end" fill="#000" transform="translate(507.4 386.2) rotate(0) scale(0.88 1) translate(-507.4 -386.2)" stroke="#000" stroke-width="0.15">−1</text>
<line x1="511.60" y1="422.10" x2="515.60" y2="422.10" stroke="#999" stroke-width="0.9"/>
<text x="507.4" y="425.4" font-size="10.4" text-anchor="end" fill="#000" transform="translate(507.4 425.4) rotate(0) scale(0.88 1) translate(-507.4 -425.4)" stroke="#000" stroke-width="0.15">−2</text>
<line x1="544.20" y1="442.20" x2="544.20" y2="446.50" stroke="#999" stroke-width="0.9"/>
<text x="544.2" y="459.0" font-size="10.6" text-anchor="middle" fill="#000" transform="translate(544.2 459.0) rotate(0) scale(0.86 1) translate(-544.2 -459.0)" stroke="#000" stroke-width="0.15">−2</text>
<line x1="576.25" y1="442.20" x2="576.25" y2="446.50" stroke="#999" stroke-width="0.9"/>
<text x="576.2" y="459.0" font-size="10.6" text-anchor="middle" fill="#000" transform="translate(576.2 459.0) rotate(0) scale(0.86 1) translate(-576.2 -459.0)" stroke="#000" stroke-width="0.15">−1</text>
<line x1="608.30" y1="442.20" x2="608.30" y2="446.50" stroke="#999" stroke-width="0.9"/>
<text x="608.3" y="459.0" font-size="10.6" text-anchor="middle" fill="#000" transform="translate(608.3 459.0) rotate(0) scale(0.86 1) translate(-608.3 -459.0)" stroke="#000" stroke-width="0.15">0</text>
<line x1="640.35" y1="442.20" x2="640.35" y2="446.50" stroke="#999" stroke-width="0.9"/>
<text x="640.3" y="459.0" font-size="10.6" text-anchor="middle" fill="#000" transform="translate(640.3 459.0) rotate(0) scale(0.86 1) translate(-640.3 -459.0)" stroke="#000" stroke-width="0.15">1</text>
<line x1="672.40" y1="442.20" x2="672.40" y2="446.50" stroke="#999" stroke-width="0.9"/>
<text x="672.4" y="459.0" font-size="10.6" text-anchor="middle" fill="#000" transform="translate(672.4 459.0) rotate(0) scale(0.86 1) translate(-672.4 -459.0)" stroke="#000" stroke-width="0.15">2</text>
<text x="599.6" y="473.1" font-size="10.2" text-anchor="middle" fill="#000" transform="translate(599.6 473.1) rotate(0) scale(0.95 1) translate(-599.6 -473.1)" stroke="#000" stroke-width="0.15">NMDS1</text>
<text x="490.7" y="352.5" font-size="10.4" text-anchor="middle" fill="#000" transform="translate(490.7 352.5) rotate(-90) scale(0.93 1) translate(-490.7 -352.5)" stroke="#000" stroke-width="0.15">NMDS2</text>
<text x="523.6" y="273.0" font-size="7" text-anchor="start" fill="#000" stroke="#000" stroke-width="0.2">stress = 8.981641e−05</text>
<text x="523.6" y="281.8" font-size="7" text-anchor="start" fill="#000" stroke="#000" stroke-width="0.2"><tspan font-style="italic">R2</tspan> = 0.018</text>
<text x="523.6" y="290.4" font-size="7" text-anchor="start" fill="#000" stroke="#000" stroke-width="0.2"><tspan font-style="italic">P</tspan>value =0.037</text>
<circle cx="667.6" cy="271.6" r="1.9" fill="#00ff00"/>
<text x="671.6" y="275.1" font-size="7" text-anchor="start" fill="#000" stroke="#000" stroke-width="0.2">No</text>
<circle cx="667.6" cy="281.0" r="1.9" fill="#a020f0"/>
<text x="671.6" y="283.7" font-size="7" text-anchor="start" fill="#000" stroke="#000" stroke-width="0.2">Yes</text>
</svg></body></html>
